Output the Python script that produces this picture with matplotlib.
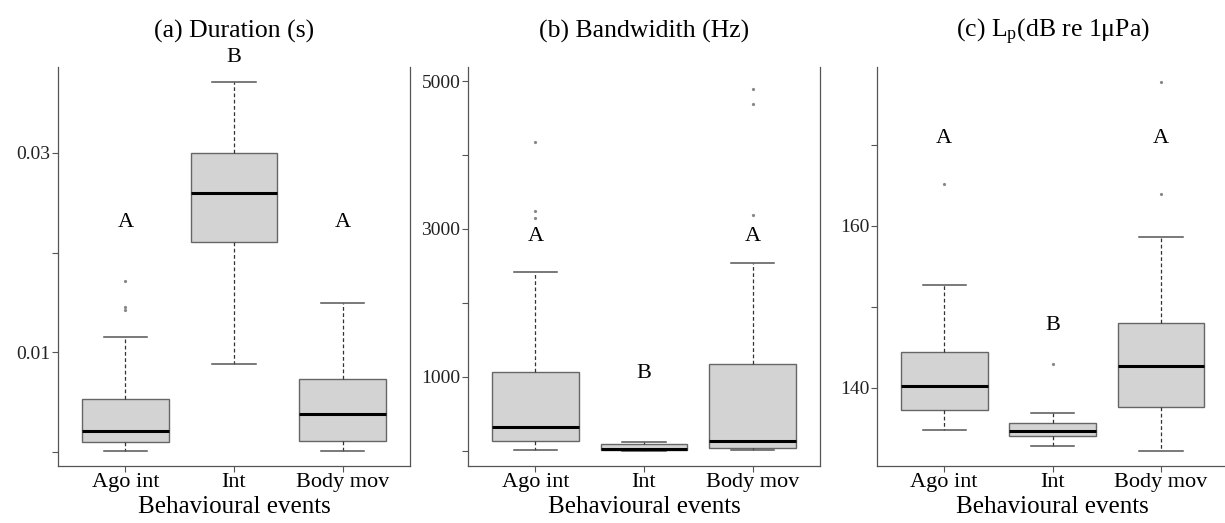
import matplotlib
matplotlib.use("Agg")
import matplotlib.pyplot as plt

plt.rcParams['font.family'] = ['Liberation Serif', 'DejaVu Serif']
plt.rcParams['mathtext.fontset'] = 'custom'
plt.rcParams['mathtext.rm'] = 'Liberation Serif'
plt.rcParams['mathtext.it'] = 'Liberation Serif:italic'

groups = ["Ago int", "Int", "Body mov"]

# box stats per group: lower whisker, q1, median, q3, upper whisker
dur_stats = [[0.0001, 0.0010, 0.0021, 0.0053, 0.0115],
             [0.0088, 0.0211, 0.0260, 0.0300, 0.0371],
             [0.0001, 0.0011, 0.0038, 0.0073, 0.0149]]
dur_out = [[0.0171, 0.0145, 0.0142], [], []]
dur_letters = ["A", "B", "A"]
dur_letter_y = [0.0230, 0.0396, 0.0230]

bw_stats = [[10, 135, 325, 1065, 2418],
            [0, 10, 27, 87, 114],
            [10, 32, 135, 1173, 2544]]
bw_out = [[4175, 3248, 3145], [], [4899, 4688, 3189]]
bw_letters = ["A", "B", "A"]
bw_letter_y = [2896, 1047, 2896]

lp_stats = [[134.8, 137.2, 140.2, 144.4, 152.7],
            [132.8, 134.0, 134.6, 135.6, 136.9],
            [132.2, 137.6, 142.7, 148.0, 158.6]]
lp_out = [[165.2], [142.9], [163.9, 177.7]]
lp_letters = ["A", "B", "A"]
lp_letter_y = [170.8, 147.7, 170.8]

panels = [
    ("(a) Duration (s)", dur_stats, dur_out, dur_letters, dur_letter_y,
     [0, 0.01, 0.02, 0.03], ["", "0.01", "", "0.03"], (-0.0014, 0.0386)),
    ("(b) Bandwidith (Hz)", bw_stats, bw_out, bw_letters, bw_letter_y,
     [0, 1000, 2000, 3000, 4000, 5000], ["", "1000", "", "3000", "", "5000"], (-205, 5190)),
    (r"(c) L$_{\mathrm{p}}$(dB re 1μPa)", lp_stats, lp_out, lp_letters, lp_letter_y,
     [140, 150, 160, 170], ["140", "", "160", ""], (130.33, 179.6)),
]

W, H = 1225, 523
fig = plt.figure(figsize=(W / 100, H / 100), dpi=100)
boxes_px = [(58, 410), (468, 820), (877, 1228)]
top_px, bot_px = 67, 466

for (title, stats, outl, letters, ly, ticks, tlabels, ylim), (l, r) in zip(panels, boxes_px):
    ax = fig.add_axes([l / W, (H - bot_px) / H, (r - l) / W, (bot_px - top_px) / H])
    bxp_stats = []
    for g, s, o in zip(groups, stats, outl):
        bxp_stats.append(dict(label=g, whislo=s[0], q1=s[1], med=s[2], q3=s[3],
                              whishi=s[4], fliers=o))
    ax.bxp(bxp_stats, positions=[1, 2, 3], widths=0.8, patch_artist=True,
           boxprops=dict(facecolor="#d3d3d3", edgecolor="#666666", linewidth=1.0),
           medianprops=dict(color="black", linewidth=2.2),
           whiskerprops=dict(color="#333333", linestyle=(0, (3, 2)), linewidth=0.9),
           capprops=dict(color="#555555", linewidth=1.1), capwidths=0.4,
           flierprops=dict(marker="o", markersize=1.3, markerfacecolor="#888888",
                           markeredgecolor="#888888"))
    for x, (t, y) in enumerate(zip(letters, ly), start=1):
        ax.text(x, y, t, ha="center", va="center", fontsize=16, clip_on=False)
    ax.set_xlim(0.38, 3.62)
    ax.set_ylim(*ylim)
    ax.set_yticks(ticks)
    ax.set_yticklabels(tlabels)
    ax.set_xticks([1, 2, 3])
    ax.set_xticklabels(groups, fontsize=16)
    ax.tick_params(axis="y", labelsize=14, length=4.5, width=0.8, color="#555555",
                   labelcolor="#222222", pad=1)
    ax.tick_params(axis="x", length=4.5, width=0.8, color="#555555", pad=0.5)
    ax.spines["top"].set_visible(False)
    for sp in ["left", "right", "bottom"]:
        ax.spines[sp].set_color("#555555")
        ax.spines[sp].set_linewidth(0.9)
    ax.set_xlabel("Behavioural events", fontsize=18, labelpad=3)
    ax.set_title(title, fontsize=18.5, pad=21)

fig.savefig("out.png", dpi=100)
